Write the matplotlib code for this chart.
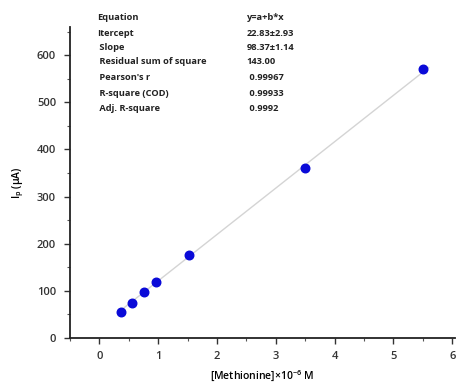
import numpy as np
import matplotlib
matplotlib.use('Agg')
import matplotlib.pyplot as plt
from matplotlib.ticker import MultipleLocator

# data
conc = [0.36, 0.56, 0.76, 0.97, 1.52, 3.5, 5.5]
current = [56, 74, 98, 119, 176, 361, 570]

# fit results shown in the table
intercept = 22.83
slope = 98.37
stat_names = ['Equation', 'Itercept', ' Slope', ' Residual sum of square',
              " Pearson's r", ' R-square (COD)', ' Adj. R-square']
stat_values = ['y=a+b*x', '22.83\u00b12.93', '98.37\u00b11.14', '143.00',
               ' 0.99967', ' 0.99933', ' 0.9992']

plt.rcParams['font.family'] = ['Open Sans', 'DejaVu Sans']

fig = plt.figure(figsize=(4.57, 3.89), dpi=100)
ax = fig.add_axes([0.153, 0.131, 0.843, 0.80])

# fitted line
xf = np.array([conc[0] - 0.05, conc[-1] + 0.1])
ax.plot(xf, intercept + slope * xf, color='#d4d4d4', lw=1.0, zorder=1)

ax.scatter(conc, current, s=38, color='#0a0ad8', zorder=3)

ax.set_xlim(-0.5, 6.05)
ax.set_ylim(0, 660)
ax.spines['top'].set_visible(False)
ax.spines['right'].set_visible(False)
for s in ['left', 'bottom']:
    ax.spines[s].set_linewidth(1.3)
    ax.spines[s].set_color('#222222')

ax.xaxis.set_major_locator(MultipleLocator(1))
ax.xaxis.set_minor_locator(MultipleLocator(0.5))
ax.yaxis.set_major_locator(MultipleLocator(100))
ax.yaxis.set_minor_locator(MultipleLocator(50))
ax.tick_params(which='major', length=4, width=1, labelsize=8, colors='#333333')
ax.tick_params(which='minor', length=2.5, width=0.8, colors='#555555')
ax.tick_params(axis='y', pad=6)
ax.tick_params(axis='x', pad=5)
for lab in ax.get_xticklabels() + ax.get_yticklabels():
    lab.set_fontweight('semibold')

ax.set_ylabel('I$_\\mathregular{p}$ (\u03bcA)', fontsize=7.5, fontweight='semibold', labelpad=8)
ax.set_xlabel('[Methionine]\u00d710$^{\\mathregular{-6}}$ M', fontsize=7.5,
              fontweight='semibold', labelpad=5)

# stats table
row_y = [18, 33, 47, 62, 78, 93, 108]
for name, val, yy in zip(stat_names, stat_values, row_y):
    fig.text(0.212, 1 - yy / 389, name, fontsize=6.7, fontweight='bold',
             va='center', color='#222222')
    fig.text(0.540, 1 - yy / 389, val, fontsize=6.7, fontweight='bold',
             va='center', color='#222222')

fig.savefig('out.png', dpi=100)
